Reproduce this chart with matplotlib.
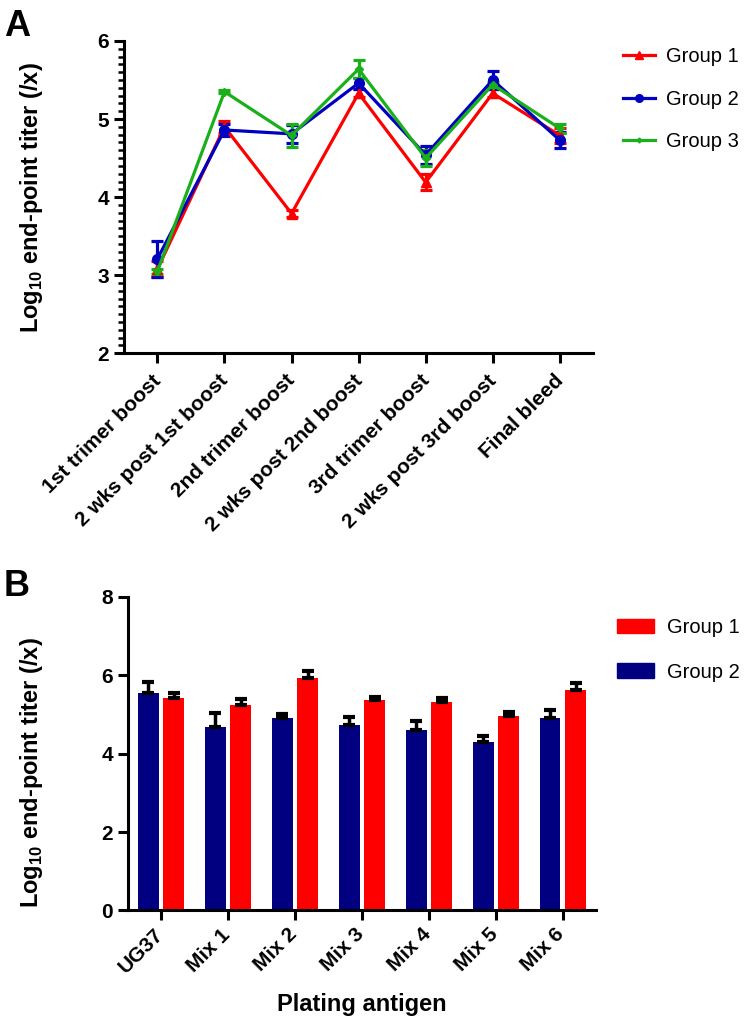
import numpy as np
import matplotlib
matplotlib.use("Agg")
import matplotlib.pyplot as plt
import matplotlib.transforms as mtransforms
from matplotlib.ticker import MultipleLocator
from matplotlib.lines import Line2D
from matplotlib.patches import Patch

plt.rcParams['font.family'] = ['Liberation Sans', 'DejaVu Sans']
plt.rcParams['mathtext.fontset'] = 'custom'
plt.rcParams['mathtext.bf'] = 'Liberation Sans:bold'
plt.rcParams['mathtext.rm'] = 'Liberation Sans'

# panel A data
timepoints = ["1st trimer boost", "2 wks post 1st boost", "2nd trimer boost",
              "2 wks post 2nd boost", "3rd trimer boost", "2 wks post 3rd boost",
              "Final bleed"]
g1_mean = [3.08, 4.90, 3.79, 5.33, 4.19, 5.33, 4.79]
g1_err = [0.10, 0.08, 0.05, 0.05, 0.10, 0.05, 0.10]
g2_mean = [3.21, 4.86, 4.81, 5.46, 4.54, 5.50, 4.73]
g2_err = [0.23, 0.08, 0.12, 0.07, 0.12, 0.12, 0.10]
g3_mean = [3.05, 5.35, 4.79, 5.64, 4.50, 5.44, 4.88]
g3_err = [0.03, 0.02, 0.15, 0.12, 0.10, 0.03, 0.06]

# panel B data
antigens = ["UG37", "Mix 1", "Mix 2", "Mix 3", "Mix 4", "Mix 5", "Mix 6"]
b_g2 = [5.54, 4.67, 4.92, 4.72, 4.61, 4.31, 4.92]
b_g2_err = [0.28, 0.36, 0.10, 0.22, 0.23, 0.15, 0.20]
b_g1 = [5.41, 5.23, 5.92, 5.38, 5.33, 4.97, 5.62]
b_g1_err = [0.13, 0.17, 0.20, 0.07, 0.10, 0.10, 0.18]

RED = "#ff0000"
BLUE = "#0000c0"
GREEN = "#19b019"
NAVY = "#000080"
YLABEL = r"Log$_{\mathbf{10}}$ end-point titer (/x)"

fig = plt.figure(figsize=(7.51, 10.24), dpi=100)

def style_axes(ax):
    for s in ["top", "right"]:
        ax.spines[s].set_visible(False)
    for s in ["left", "bottom"]:
        ax.spines[s].set_linewidth(2.2)
    ax.tick_params(axis="both", which="major", width=2.2, length=7, labelsize=15)
    ax.tick_params(axis="y", which="minor", width=1.8, length=4)
    for lab in ax.get_yticklabels():
        lab.set_fontweight("bold")

def shift_xlabels(ax, dx, dy):
    off = mtransforms.ScaledTranslation(dx / 100, dy / 100, fig.dpi_scale_trans)
    for lab in ax.get_xticklabels():
        lab.set_transform(lab.get_transform() + off)

# ---- panel A ----
axA = fig.add_axes([0.165, 0.655, 0.625, 0.305])
x = np.arange(len(timepoints))
series = [(g1_mean, g1_err, RED, "^", 7, "Group 1"),
          (g2_mean, g2_err, BLUE, "o", 7, "Group 2"),
          (g3_mean, g3_err, GREEN, "D", 4, "Group 3")]
handles = []
for m, e, c, mk, ms, lab in series:
    axA.errorbar(x, m, yerr=e, color=c, marker=mk, markersize=ms, lw=2.3,
                 elinewidth=2.3, capsize=4, capthick=2.3)
    handles.append(Line2D([], [], color=c, marker=mk, markersize=ms - 1.5,
                          lw=2.3, label=lab))
axA.set_xlim(-0.5, 6.5)
axA.set_ylim(2, 6)
axA.yaxis.set_major_locator(MultipleLocator(1))
axA.yaxis.set_minor_locator(MultipleLocator(0.1))
axA.set_xticks(x)
axA.set_xticklabels(timepoints, rotation=45, ha="right", rotation_mode="anchor",
                    fontweight="bold", fontsize=13.5)
style_axes(axA)
shift_xlabels(axA, -6, -3)
axA.set_ylabel(YLABEL, fontsize=17, fontweight="bold")
axA.yaxis.set_label_coords(-0.168, 0.50)
fig.legend(handles=handles, loc="upper left", bbox_to_anchor=(623 / 751, 1 - 47 / 1024),
           frameon=False, fontsize=14.5, handlelength=1.6, handletextpad=0.55,
           labelspacing=1.17, borderpad=0, borderaxespad=0)
fig.text(0.005, 0.965, "A", fontsize=26, fontweight="bold")

# ---- panel B ----
axB = fig.add_axes([0.170, 0.111, 0.624, 0.306])
xb = np.arange(len(antigens))
w = 0.31
axB.bar(xb + 0.19, b_g1, width=w, color=RED, zorder=2)
axB.bar(xb - 0.19, b_g2, width=w, color=NAVY, zorder=2)
axB.errorbar(xb - 0.19, b_g2, yerr=[np.zeros(len(b_g2)), b_g2_err], fmt="none",
             ecolor="black", elinewidth=2.5, capsize=4, capthick=3, zorder=3)
axB.errorbar(xb + 0.19, b_g1, yerr=[np.zeros(len(b_g1)), b_g1_err], fmt="none",
             ecolor="black", elinewidth=2.5, capsize=4, capthick=3, zorder=3)
axB.set_xlim(-0.5, 6.5)
axB.set_ylim(0, 8)
axB.yaxis.set_major_locator(MultipleLocator(2))
axB.set_xticks(xb)
axB.set_xticklabels(antigens, rotation=45, ha="right", rotation_mode="anchor",
                    fontweight="bold", fontsize=13.5)
style_axes(axB)
shift_xlabels(axB, -8, 0)
axB.set_ylabel(YLABEL, fontsize=17, fontweight="bold")
axB.yaxis.set_label_coords(-0.177, 0.44)
axB.set_xlabel("Plating antigen", fontsize=17, fontweight="bold", labelpad=12)
bhandles = [Patch(color=RED, label="Group 1"), Patch(color=NAVY, label="Group 2")]
fig.legend(handles=bhandles, loc="upper left", bbox_to_anchor=(617 / 751, 1 - 618 / 1024),
           frameon=False, fontsize=14.5, handlelength=1.85, handleheight=0.75,
           handletextpad=0.65, labelspacing=1.27, borderpad=0, borderaxespad=0)
fig.text(0.005, 0.418, "B", fontsize=26, fontweight="bold")

fig.savefig("out.png", dpi=100)
